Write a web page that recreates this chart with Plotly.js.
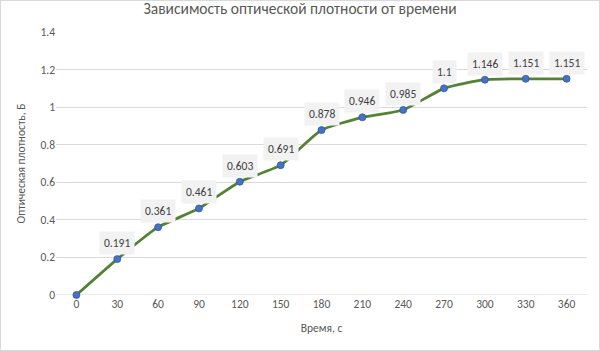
<!DOCTYPE html>
<html><head><meta charset="utf-8">
<script src="https://cdn.plot.ly/plotly-3.0.1.min.js"></script>
<style>body{margin:0;}#wrap{position:relative;width:600px;height:351px;}#frame{position:absolute;left:0;top:0;width:598px;height:349px;border:1px solid #d9d9d9;pointer-events:none;}</style>
</head><body><div id="wrap"><div id="chart" style="width:600px;height:351px;"></div><div id="frame"></div></div>
<script>
const times = [0, 30, 60, 90, 120, 150, 180, 210, 240, 270, 300, 330, 360];
const density = [0, 0.191, 0.361, 0.461, 0.603, 0.691, 0.878, 0.946, 0.985, 1.1, 1.146, 1.151, 1.151];
const labels = ['0.191','0.361','0.461','0.603','0.691','0.878','0.946','0.985','1.1','1.146','1.151','1.151'];
const yTicks = [0, 0.2, 0.4, 0.6, 0.8, 1, 1.2, 1.4];
const yTickText = ['0','0.2','0.4','0.6','0.8','1','1.2','1.4'];

const font = "Calibri, Carlito, 'Noto Sans', sans-serif";
const trace = {
  x: times, y: density, type: 'scatter', mode: 'lines+markers', cliponaxis: false,
  line: {color: '#548235', width: 2.75, shape: 'spline', smoothing: 0.5},
  marker: {color: '#4472c4', size: 7, line: {color: '#2f5597', width: 0.75}},
  hoverinfo: 'none'
};
const annotations = times.slice(1).map((t, i) => ({
  x: t, y: density[i + 1], xref: 'x', yref: 'y', text: labels[i],
  showarrow: false, yshift: 16, bgcolor: '#f2f2f2', borderpad: 4,
  font: {family: font, size: 11.5, color: '#404040'}
}));
const layout = {
  width: 600, height: 351,
  margin: {l: 56, r: 13, t: 32, b: 56},
  paper_bgcolor: '#ffffff', plot_bgcolor: '#ffffff',
  showlegend: false,
  title: {text: 'Зависимость оптической плотности от времени', x: 0.5, xanchor: 'center', y: 0.99, yanchor: 'top',
    font: {family: font, size: 15.5, color: '#595959'}},
  xaxis: {
    range: [-15, 375], tickvals: times, ticktext: times.map(String), showgrid: false, zeroline: false,
    showline: false, ticks: '', tickfont: {family: font, size: 11.5, color: '#595959'},
    title: {text: 'Время, с', font: {family: font, size: 11.5, color: '#595959'}, standoff: 14}
  },
  yaxis: {
    range: [0, 1.4], tickvals: yTicks, ticktext: yTickText, showgrid: true, gridcolor: '#d9d9d9', gridwidth: 1,
    zeroline: false, showline: false, ticks: '', ticklen: 0, tickfont: {family: font, size: 11.5, color: '#595959'},
    title: {text: 'Оптическая плотность, Б', font: {family: font, size: 11.5, color: '#595959'}, standoff: 12}
  },
  shapes: [{type: 'line', xref: 'paper', yref: 'y', x0: 0, x1: 1, y0: 0, y1: 0, line: {color: '#d9d9d9', width: 1}, layer: 'below'}],
  annotations: annotations
};
Plotly.newPlot('chart', [trace], layout, {displayModeBar: false, staticPlot: true});
</script>
</body></html>
